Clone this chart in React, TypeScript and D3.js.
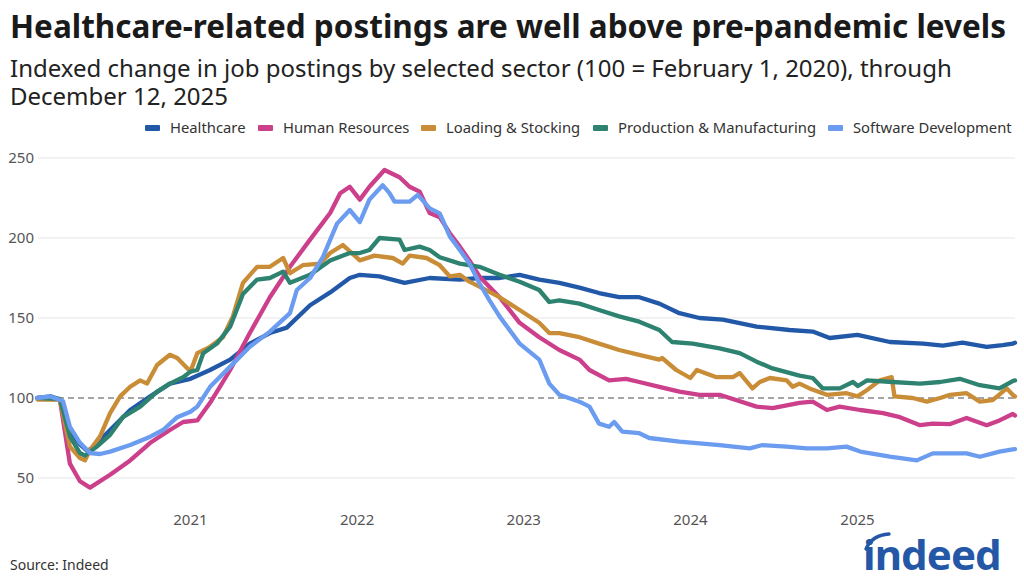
import React from "react";
import * as d3 from "d3";

const W = 1024;
const H = 585;

const seriesNames = ["Healthcare", "Human Resources", "Loading & Stocking", "Production & Manufacturing", "Software Development"];
const seriesColors = ["#2258a8", "#cc3f8b", "#c98d37", "#2e8270", "#6b9cf0"];
const yTicks = [50, 100, 150, 200, 250];
const xTickYears = ["2021", "2022", "2023", "2024", "2025"];

type P = [string, number];

const healthcare: P[] = [
  ["2020-02-01", 100], ["2020-03-01", 101], ["2020-03-21", 99], ["2020-04-12", 80], ["2020-05-04", 71],
  ["2020-05-20", 67], ["2020-06-01", 69], ["2020-07-09", 80], ["2020-08-22", 92.5], ["2020-10-05", 101],
  ["2020-11-17", 109], ["2021-01-01", 112], ["2021-02-13", 117.5], ["2021-03-29", 124], ["2021-05-11", 134],
  ["2021-06-24", 140.6], ["2021-07-31", 144], ["2021-09-20", 158], ["2021-11-03", 166], ["2021-12-16", 175],
  ["2022-01-07", 177], ["2022-02-19", 176], ["2022-04-15", 172], ["2022-06-09", 175], ["2022-08-14", 174],
  ["2022-09-26", 175], ["2022-11-09", 175], ["2022-12-23", 177], ["2023-02-04", 174], ["2023-03-20", 172],
  ["2023-05-03", 169], ["2023-06-15", 165.6], ["2023-07-29", 163], ["2023-09-11", 163], ["2023-10-25", 159],
  ["2023-12-08", 153], ["2024-01-21", 150], ["2024-03-12", 149], ["2024-05-25", 144.6], ["2024-08-05", 142.5],
  ["2024-09-25", 141.5], ["2024-11-01", 137.5], ["2025-01-01", 139.4], ["2025-03-13", 135], ["2025-05-25", 134],
  ["2025-07-07", 132.7], ["2025-08-19", 134.6], ["2025-10-11", 132], ["2025-11-15", 133], ["2025-12-07", 134],
  ["2025-12-12", 134.5],
];

const humanResources: P[] = [
  ["2020-02-01", 100], ["2020-03-21", 99], ["2020-04-12", 59], ["2020-05-04", 48], ["2020-05-26", 44],
  ["2020-07-09", 52], ["2020-08-22", 61], ["2020-10-05", 72], ["2020-11-17", 80], ["2020-12-16", 85],
  ["2021-01-16", 86], ["2021-02-13", 97], ["2021-03-29", 117.5], ["2021-05-11", 140.6], ["2021-06-24", 163],
  ["2021-08-07", 182], ["2021-09-20", 199], ["2021-11-03", 215.6], ["2021-11-25", 228], ["2021-12-16", 232],
  ["2022-01-07", 224], ["2022-01-28", 232], ["2022-03-02", 242.5], ["2022-04-04", 238], ["2022-04-26", 232],
  ["2022-05-18", 229], ["2022-06-09", 215.6], ["2022-07-01", 213], ["2022-07-23", 203], ["2022-08-14", 194.6],
  ["2022-09-04", 186], ["2022-09-26", 176], ["2022-11-09", 163], ["2022-12-23", 147], ["2023-02-04", 138],
  ["2023-03-20", 130], ["2023-05-03", 124], ["2023-05-25", 117.5], ["2023-07-07", 111], ["2023-08-13", 112],
  ["2023-09-11", 110], ["2023-10-25", 107], ["2023-12-08", 104], ["2024-01-21", 102], ["2024-03-05", 102],
  ["2024-05-25", 94.6], ["2024-06-29", 93.7], ["2024-08-27", 97], ["2024-09-25", 97.7], ["2024-10-26", 92.5],
  ["2024-11-23", 94.6], ["2025-01-07", 92.5], ["2025-02-26", 90.6], ["2025-04-04", 88], ["2025-05-18", 83],
  ["2025-06-15", 84], ["2025-07-23", 83.7], ["2025-08-28", 87.5], ["2025-10-11", 83], ["2025-11-08", 86],
  ["2025-12-07", 90], ["2025-12-12", 89],
];

const loadingStocking: P[] = [
  ["2020-02-01", 99], ["2020-03-21", 99], ["2020-04-12", 69.6], ["2020-05-04", 62.5], ["2020-05-15", 61],
  ["2020-05-26", 67.5], ["2020-06-17", 76], ["2020-07-09", 90.6], ["2020-07-31", 101], ["2020-08-22", 107],
  ["2020-09-13", 111], ["2020-09-28", 109], ["2020-10-20", 120.6], ["2020-11-17", 127], ["2020-12-03", 125],
  ["2021-01-01", 116.5], ["2021-01-16", 128], ["2021-02-13", 132], ["2021-03-13", 138], ["2021-04-04", 151],
  ["2021-04-26", 172], ["2021-05-27", 182], ["2021-06-24", 182], ["2021-07-23", 187.5], ["2021-08-07", 178],
  ["2021-09-04", 183], ["2021-10-12", 184], ["2021-11-03", 190.6], ["2021-12-01", 195.6], ["2022-01-07", 186],
  ["2022-02-08", 189], ["2022-03-20", 187.5], ["2022-04-11", 184], ["2022-04-26", 189], ["2022-06-02", 187.5],
  ["2022-07-01", 183], ["2022-07-23", 176], ["2022-08-14", 177], ["2022-09-04", 172.7], ["2022-09-26", 169.6],
  ["2022-11-09", 163], ["2022-12-23", 155], ["2023-02-04", 147], ["2023-02-26", 140.6], ["2023-03-20", 140.6],
  ["2023-05-03", 138], ["2023-06-15", 134], ["2023-07-29", 130], ["2023-09-11", 127], ["2023-10-25", 124],
  ["2023-10-31", 125], ["2023-12-01", 117.5], ["2024-01-01", 112.5], ["2024-01-15", 117.5], ["2024-02-27", 113],
  ["2024-04-03", 113], ["2024-04-18", 115.6], ["2024-05-16", 106], ["2024-06-01", 110], ["2024-06-23", 112.5],
  ["2024-07-30", 111], ["2024-08-12", 107], ["2024-08-27", 109], ["2024-09-18", 106], ["2024-10-26", 102],
  ["2024-12-08", 103], ["2025-01-01", 101], ["2025-01-22", 105], ["2025-02-19", 111], ["2025-03-17", 113],
  ["2025-03-23", 101], ["2025-05-02", 100], ["2025-06-02", 97.7], ["2025-07-01", 100], ["2025-07-23", 102],
  ["2025-08-28", 103], ["2025-09-26", 97.7], ["2025-10-24", 98.7], ["2025-11-24", 106], ["2025-12-07", 102],
  ["2025-12-12", 101],
];

const productionManufacturing: P[] = [
  ["2020-02-01", 100], ["2020-03-21", 99.5], ["2020-04-12", 76], ["2020-05-04", 65.6], ["2020-05-15", 64],
  ["2020-06-10", 69.6], ["2020-07-09", 77], ["2020-08-06", 88], ["2020-09-13", 94.6], ["2020-10-20", 104],
  ["2020-11-17", 109], ["2020-12-16", 113], ["2021-01-01", 116.5], ["2021-01-16", 117.5], ["2021-01-29", 128],
  ["2021-02-28", 134], ["2021-03-29", 144.6], ["2021-04-26", 165], ["2021-05-27", 174], ["2021-06-24", 175],
  ["2021-07-23", 179], ["2021-08-07", 172], ["2021-09-20", 177], ["2021-11-03", 186], ["2021-12-16", 190.6],
  ["2022-01-07", 190.6], ["2022-01-28", 192.5], ["2022-02-19", 200], ["2022-04-04", 199], ["2022-04-15", 192.5],
  ["2022-05-18", 194.6], ["2022-06-09", 192.5], ["2022-07-01", 188], ["2022-08-14", 184], ["2022-09-26", 182],
  ["2022-11-09", 177], ["2022-12-23", 172.7], ["2023-02-04", 167.5], ["2023-02-26", 160], ["2023-03-20", 161],
  ["2023-05-03", 159], ["2023-06-15", 155], ["2023-07-29", 151], ["2023-09-11", 147.7], ["2023-10-25", 142.5],
  ["2023-11-22", 135], ["2024-01-06", 134], ["2024-03-05", 131], ["2024-04-18", 128], ["2024-05-25", 122.7],
  ["2024-06-29", 118.5], ["2024-08-27", 114], ["2024-09-25", 112.5], ["2024-10-17", 106], ["2024-11-23", 106],
  ["2024-12-22", 110], ["2025-01-02", 107.5], ["2025-01-22", 111], ["2025-03-19", 110], ["2025-05-18", 109],
  ["2025-07-01", 110], ["2025-08-13", 112], ["2025-09-26", 108], ["2025-11-08", 106], ["2025-12-07", 110.6],
  ["2025-12-12", 111],
];

const softwareDevelopment: P[] = [
  ["2020-02-01", 100], ["2020-03-01", 101], ["2020-03-28", 98], ["2020-04-12", 82], ["2020-05-04", 72],
  ["2020-05-26", 65.6], ["2020-06-17", 65], ["2020-07-09", 66.5], ["2020-08-22", 70.6], ["2020-10-05", 75.8],
  ["2020-11-02", 80], ["2020-12-03", 88], ["2021-01-01", 91.4], ["2021-01-16", 94.6], ["2021-02-13", 107],
  ["2021-03-29", 119.6], ["2021-05-11", 132], ["2021-06-24", 141.5], ["2021-08-07", 153], ["2021-08-22", 167.5],
  ["2021-09-20", 175], ["2021-10-18", 188], ["2021-11-18", 209], ["2021-12-16", 217.5], ["2022-01-07", 210],
  ["2022-01-28", 224], ["2022-02-26", 233], ["2022-03-13", 228], ["2022-03-24", 222.7], ["2022-04-26", 222.7],
  ["2022-05-14", 227], ["2022-06-09", 218.5], ["2022-07-01", 215.4], ["2022-07-23", 201], ["2022-08-14", 192.5],
  ["2022-09-04", 184], ["2022-09-26", 171.7], ["2022-10-18", 161], ["2022-11-09", 151], ["2022-12-23", 134],
  ["2023-02-04", 124], ["2023-02-26", 109], ["2023-03-20", 102], ["2023-05-03", 97.7], ["2023-05-25", 94.6],
  ["2023-06-15", 84], ["2023-07-07", 82], ["2023-07-18", 85], ["2023-08-05", 79], ["2023-09-11", 78],
  ["2023-10-03", 75], ["2023-12-08", 72.7], ["2024-01-21", 71.7], ["2024-03-05", 70.6], ["2024-05-10", 68.5],
  ["2024-06-07", 70.6], ["2024-07-30", 69.6], ["2024-09-12", 68.5], ["2024-10-26", 68.5], ["2024-12-08", 69.6],
  ["2025-01-07", 66.5], ["2025-03-13", 63.3], ["2025-05-11", 61], ["2025-06-15", 65.4], ["2025-07-23", 65.4],
  ["2025-08-28", 65.4], ["2025-09-26", 63.3], ["2025-11-08", 66.5], ["2025-12-07", 67.9], ["2025-12-12", 68],
];

const allSeries = [healthcare, humanResources, loadingStocking, productionManufacturing, softwareDevelopment];

const parse = d3.utcParse("%Y-%m-%d");
const FONT = "'Noto Sans', 'Open Sans', sans-serif";

export default function App() {
  const x = d3
    .scaleUtc()
    .domain([parse("2020-02-01")!, parse("2025-12-12")!])
    .range([37.5, 1015]);
  const y = d3.scaleLinear().domain([50, 250]).range([478, 158]);

  const line = d3
    .line<P>()
    .x((d) => x(parse(d[0])!))
    .y((d) => y(d[1]))
    .curve(d3.curveLinear);

  const legendX = [145, 258, 421, 593, 828];

  return (
    <svg width={W} height={H} viewBox={`0 0 ${W} ${H}`} style={{ display: "block", position: "absolute", left: 0, top: 0, background: "#fff" }}>
      <rect x={0} y={0} width={W} height={H} fill="#fff" />
      <text x={10} y={38} fontFamily={FONT} fontWeight={700} fontSize={31.5} fill="#1a1a1a">
        Healthcare-related postings are well above pre-pandemic levels
      </text>
      <text fontFamily={FONT} fontSize={24} fill="#222">
        <tspan x={10} y={77}>Indexed change in job postings by selected sector (100 = February 1, 2020), through</tspan>
        <tspan x={10} y={105}>December 12, 2025</tspan>
      </text>

      {seriesNames.map((n, i) => (
        <g key={n} transform={`translate(${legendX[i]},128)`}>
          <rect x={0} y={-3} width={15} height={6} fill={seriesColors[i]} rx={1} />
          <text x={25} y={5} fontFamily={FONT} fontSize={14.8} fill="#333">
            {n}
          </text>
        </g>
      ))}

      {yTicks.map((t) => (
        <g key={t}>
          {t !== 100 && <line x1={38} x2={1015} y1={y(t)} y2={y(t)} stroke="#e6e6e6" strokeWidth={1.2} />}
          <text x={34} y={y(t) + 5} textAnchor="end" fontFamily={FONT} fontSize={15} fill="#555">
            {t}
          </text>
        </g>
      ))}
      <line x1={38} x2={1015} y1={y(100)} y2={y(100)} stroke="#888" strokeWidth={1.5} strokeDasharray="6,4" />

      {xTickYears.map((yr) => (
        <text key={yr} x={x(parse(`${yr}-01-01`)!)} y={525} textAnchor="middle" fontFamily={FONT} fontSize={15} fill="#555">
          {yr}
        </text>
      ))}

      {allSeries.map((s, i) => (
        <path key={i} d={line(s) || ""} fill="none" stroke={seriesColors[i]} strokeWidth={4.3} strokeLinejoin="round" strokeLinecap="round" />
      ))}

      <text x={10} y={570} fontFamily={FONT} fontSize={14} fill="#333">
        Source: Indeed
      </text>

      <g>
        <path d="M 866 549 Q 872 535 889 534" fill="none" stroke="#2557a7" strokeWidth={3.4} strokeLinecap="round" />
        <text x={863} y={570} fontFamily={FONT} fontWeight={700} fontSize={42} fill="#2557a7" letterSpacing={-0.9}>
          indeed
        </text>
      </g>
    </svg>
  );
}
